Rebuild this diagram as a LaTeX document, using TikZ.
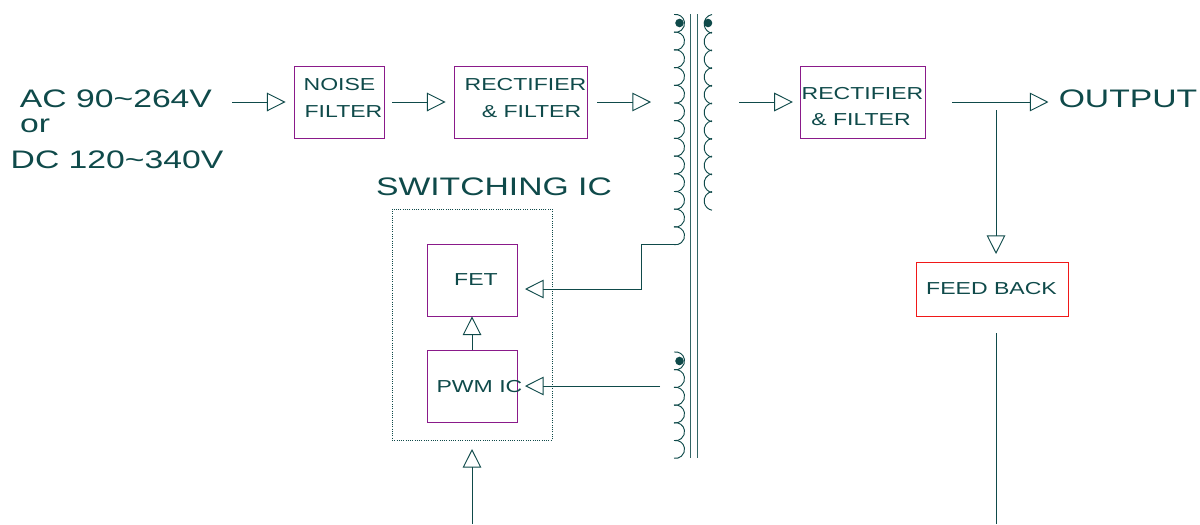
\documentclass[tikz,border=0pt]{standalone}
\usepackage{fontspec}
\setmainfont[FakeStretch=1.33]{Liberation Sans}
\usetikzlibrary{arrows.meta}
\definecolor{inkteal}{HTML}{0F4A4A}
\definecolor{boxpurple}{HTML}{8A1A8A}
\definecolor{boxred}{HTML}{F01818}

\begin{document}
\begin{tikzpicture}[
    x=0.75pt, y=-0.75pt,
    % Styles
    box/.style={rectangle, draw=boxpurple, line width=0.7pt, minimum width=#1*0.75pt, minimum height=54pt, inner sep=0pt},
    smalltext/.style={text=inkteal, font=\fontsize{13}{15}\selectfont, inner sep=0pt},
    bigtext/.style={text=inkteal, font=\fontsize{19}{21}\selectfont, inner sep=0pt},
    arrow/.style={-{Triangle[open, length=14pt, width=14pt]}, inkteal, line width=0.7pt},
    wire/.style={inkteal, line width=0.7pt},
    core/.style={draw=inkteal!85, line width=0.7pt},
    coil/.style={draw=inkteal, line width=0.7pt},
]
\useasboundingbox (0,0) rectangle (1200,525);

% === INPUT ===
\node[bigtext] (acin) at (116,99) {AC 90\char`\~264V};
\node[bigtext] (orin) at (35,126) {or};
\node[bigtext] (dcin) at (117,160) {DC 120\char`\~340V};

% === TOP ROW ===
\node[box=90] (noise) at (339,102.5) {};
\node[smalltext] (noisea) at (339.5,85) {NOISE};
\node[smalltext] (noiseb) at (343.5,112) {FILTER};
\node[box=133] (rectin) at (520.5,102.5) {};
\node[smalltext] (rectina) at (525.5,85) {RECTIFIER};
\node[smalltext] (rectinb) at (531.5,112) {\& FILTER};
\node[box=125] (rectout) at (862.5,102.5) {};
\node[smalltext] (rectouta) at (862.5,94) {RECTIFIER};
\node[smalltext] (rectoutb) at (861,120) {\& FILTER};
\node[bigtext] (output) at (1128,99) {OUTPUT};

% === SWITCHING IC ===
\node[rectangle, draw=inkteal, densely dotted, line width=0.7pt, minimum width=120pt, minimum height=173.25pt, inner sep=0pt] (swic) at (472,324.5) {};
\node[bigtext] (swiclabel) at (494,187) {SWITCHING IC};
\node[box=90] (fet) at (472,280) {};
\node[smalltext] (fetlabel) at (476,280) {FET};
\node[box=90] (pwm) at (472,386.5) {};
\node[smalltext] (pwmlabel) at (479.5,387) {PWM IC};

% === FEED BACK ===
\node[box=152, draw=boxred, minimum height=40.5pt] (feed) at (992,289) {};
\node[smalltext] (feedlabel) at (991.5,289) {FEED BACK};

% Transformer core
\draw[core] (690.7,14) -- (690.7,458);
\draw[core] (697.7,14) -- (697.7,458);

% Windings
\foreach \i in {0,...,12} {
    \draw[coil] (674,14.5+\i*17.7) arc[start angle=-100, end angle=100, radius=9];
}
\foreach \i in {0,...,10} {
    \draw[coil] (712,14.5+\i*17.7) arc[start angle=260, end angle=100, radius=9.5];
}
\foreach \i in {0,...,5} {
    \draw[coil] (674,352+\i*17.7) arc[start angle=-100, end angle=100, radius=9];
}
\fill[inkteal] (679.5,23) circle (3.2pt);
\fill[inkteal] (708,23) circle (3.2pt);
\fill[inkteal] (679.5,361) circle (3.2pt);

% Free ends
\coordinate (primend) at (675,244);
\coordinate (auxend) at (660,386);
\coordinate (corein) at (651,102);
\coordinate (coreout) at (739,102);
\coordinate (feedin) at (996,254);
\coordinate (feedstart) at (996,333);
\coordinate (feedend) at (996,524);
\coordinate (icin) at (472,524);
\coordinate (ictip) at (472,449);

% Arrows
\draw[arrow] (232,102) -- ([xshift=-6pt]noise.west |- 0,102);
\draw[arrow] (noise.east |- 0,102) ++(6pt,0) -- ([xshift=-6pt]rectin.west |- 0,102);
\draw[arrow] (rectin.east |- 0,102) ++(7.5pt,0) -- (corein);
\draw[arrow] (coreout) -- ([xshift=-5pt]rectout.west |- 0,102);
\draw[arrow] (952,102) -- ([xshift=-7.5pt]output.west |- 0,102);
\draw[arrow] (996,110) -- (feedin);
\draw[wire] (feedstart) -- (feedend);
\draw[arrow] (pwm.north) -- (fet.south);
\draw[arrow] (icin) -- (ictip);
\draw[arrow] (primend) -- (641,244) -- (641,289) -- (525,289);
\draw[arrow] (auxend) -- (525,386);

\end{tikzpicture}
\end{document}
